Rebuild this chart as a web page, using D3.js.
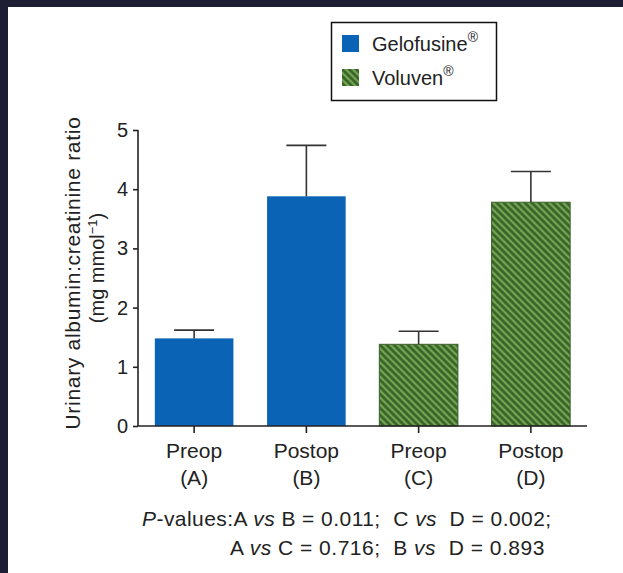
<!DOCTYPE html>
<html><head><meta charset="utf-8">
<script src="https://cdn.jsdelivr.net/npm/d3@7"></script>
<style>
html,body{margin:0;padding:0;background:#fff;}
svg{display:block;}
text{font-family:"Liberation Sans",Arial,Helvetica,sans-serif;fill:#222;}
</style></head>
<body>
<script>
const categories = ["A","B","C","D"];
const labelLine1 = ["Preop","Postop","Preop","Postop"];
const labelLine2 = ["(A)","(B)","(C)","(D)"];
const groups = ["Gelofusine","Gelofusine","Voluven","Voluven"];
const means = [1.48, 3.88, 1.38, 3.78];
const upperErr = [1.62, 4.74, 1.60, 4.30];
const yTicks = [0,1,2,3,4,5];
const legendNames = ["Gelofusine","Voluven"];

const W=623,H=573;
const svg=d3.select("body").append("svg").attr("width",W).attr("height",H);

// dark frame
svg.append("rect").attr("x",0).attr("y",0).attr("width",W).attr("height",7).attr("fill","#1d1d33");
svg.append("rect").attr("x",0).attr("y",0).attr("width",8).attr("height",H).attr("fill","#1d1d33");

const defs=svg.append("defs");
const pat=defs.append("pattern").attr("id","hatch").attr("patternUnits","userSpaceOnUse")
  .attr("width",7).attr("height",7);
pat.append("rect").attr("width",7).attr("height",7).attr("fill","#72a352");
pat.append("path").attr("d","M-1,-1 L8,8 M-1,6 L1,8 M6,-1 L8,1")
  .attr("stroke","#3b6629").attr("stroke-width",2.7);

const x=d3.scaleBand().domain(categories).range([138,587]).paddingInner(0.3).paddingOuter(0.15);
const y=d3.scaleLinear().domain([0,5]).range([426,130]);

const fillFor=g=> g==="Gelofusine" ? "#0b63b6" : "url(#hatch)";

// bars
svg.selectAll("rect.bar").data(categories).enter().append("rect")
  .attr("class","bar")
  .attr("x",d=>x(d)).attr("width",x.bandwidth())
  .attr("y",(d,i)=>y(means[i])).attr("height",(d,i)=>y(0)-y(means[i]))
  .attr("fill",(d,i)=>fillFor(groups[i]))
  .attr("stroke",(d,i)=>groups[i]==="Gelofusine"?"none":"#3a5f28")
  .attr("stroke-width",1);

// error bars
const eb=svg.append("g").attr("stroke","#333").attr("stroke-width",1.6);
categories.forEach((c,i)=>{
  const cx=x(c)+x.bandwidth()/2;
  eb.append("line").attr("x1",cx).attr("x2",cx).attr("y1",y(means[i])).attr("y2",y(upperErr[i]));
  eb.append("line").attr("x1",cx-20).attr("x2",cx+20).attr("y1",y(upperErr[i])).attr("y2",y(upperErr[i]));
});

// y axis
const ya=svg.append("g").attr("transform","translate(138,0)")
  .call(d3.axisLeft(y).tickValues(yTicks).tickFormat(d3.format("d")).tickSize(5).tickPadding(5));
ya.select(".domain").attr("stroke","#222").attr("stroke-width",1.6).attr("d","M-0,"+y(5)+"V"+y(0));
ya.selectAll(".tick line").attr("stroke","#222").attr("stroke-width",1.6);
ya.selectAll(".tick text").attr("font-size",20).attr("fill","#222")
  .attr("font-family","Liberation Sans, Arial, sans-serif");

// x axis
const xa=svg.append("g").attr("transform","translate(0,"+y(0)+")")
  .call(d3.axisBottom(x).tickSize(7).tickFormat(""));
xa.select(".domain").attr("stroke","#222").attr("stroke-width",1.6).attr("d","M138,0H587");
xa.selectAll(".tick line").attr("stroke","#222").attr("stroke-width",1.6);

const xl=svg.append("g");
categories.forEach((c,i)=>{
  const cx=x(c)+x.bandwidth()/2;
  xl.append("text").attr("x",cx).attr("y",458).attr("text-anchor","middle").attr("font-size",21).text(labelLine1[i]);
  xl.append("text").attr("x",cx).attr("y",485).attr("text-anchor","middle").attr("font-size",21).text(labelLine2[i]);
});

// y label
yl1=svg.append("text").attr("transform","translate(80,273) rotate(-90)").attr("text-anchor","middle")
  .attr("font-size",21).attr("letter-spacing",0.7).text("Urinary albumin:creatinine ratio");
const l2=svg.append("text").attr("transform","translate(104,268) rotate(-90)").attr("text-anchor","middle").attr("font-size",20);
l2.append("tspan").text("(mg mmol");
l2.append("tspan").attr("dy",-7).attr("font-size",13).text("\u22121");
l2.append("tspan").attr("dy",7).text(")");

// legend
const lg=svg.append("g");
lg.append("rect").attr("x",331.5).attr("y",22.5).attr("width",165).attr("height",78)
  .attr("fill","#fff").attr("stroke","#111").attr("stroke-width",1.5);
legendNames.forEach((n,i)=>{
  const yy=35+i*34;
  lg.append("rect").attr("x",342).attr("y",yy).attr("width",17).attr("height",17)
    .attr("fill",fillFor(n));
  const t=lg.append("text").attr("x",372).attr("y",yy+16).attr("font-size",20);
  t.append("tspan").text(n);
  t.append("tspan").attr("dy",-9).attr("font-size",14).text("\u00AE");
});

// p-values
const p1=svg.append("text").attr("x",142).attr("y",526).attr("font-size",21).attr("letter-spacing",0.45).style("white-space","pre");
p1.append("tspan").attr("font-style","italic").text("P");
p1.append("tspan").text("-values:A ");
p1.append("tspan").attr("font-style","italic").text("vs");
p1.append("tspan").text(" B = 0.011;  C ");
p1.append("tspan").attr("font-style","italic").text("vs");
p1.append("tspan").text("  D = 0.002;");
const p2=svg.append("text").attr("x",230).attr("y",555).attr("font-size",21).attr("letter-spacing",0.5).style("white-space","pre");
p2.append("tspan").text("A ");
p2.append("tspan").attr("font-style","italic").text("vs");
p2.append("tspan").text(" C = 0.716;  B ");
p2.append("tspan").attr("font-style","italic").text("vs");
p2.append("tspan").text("  D = 0.893");
</script>
</body></html>
